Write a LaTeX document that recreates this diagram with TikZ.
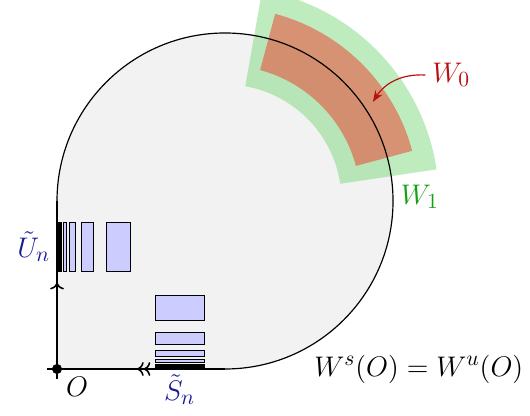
\documentclass[tikz,border=0pt]{standalone}
\usetikzlibrary{arrows.meta}
\definecolor{wonefill}{RGB}{128,218,128}
\definecolor{wzerofill}{RGB}{236,56,40}
\definecolor{wzerotext}{RGB}{185,15,15}
\definecolor{wonetext}{RGB}{20,160,20}
\definecolor{seqtext}{RGB}{25,25,150}
\begin{document}
\begin{tikzpicture}[
		axis/.style={line width=0.8pt},
		boundary/.style={line width=0.6pt},
		box/.style={draw=black, fill=blue!20, line width=0.5pt},
		tag/.style={font=\fontsize{15}{18}\selectfont},
		nbhd/.style={fill opacity=0.5}
		]
		\useasboundingbox (-1.018,-0.839) rectangle (8.446,6.589);
		
		% Region enclosed by the branches and the arc
		\fill[gray!10] (0,0) -- (0,3) arc[start angle=180, end angle=-90, radius=3] -- cycle;
		
		% Neighbourhoods W_1 and W_0
		\fill[nbhd, fill=wonefill] ([shift={(3,3)}]8.5:3.82) arc[start angle=8.5, end angle=80, radius=3.82]
			-- ([shift={(3,3)}]80:2.08) arc[start angle=80, end angle=8.5, radius=2.08] -- cycle;
		\fill[nbhd, fill=wzerofill] ([shift={(3,3)}]15:3.46) arc[start angle=15, end angle=75, radius=3.46]
			-- ([shift={(3,3)}]75:2.42) arc[start angle=75, end angle=15, radius=2.42] -- cycle;
		
		% Boundary arc
		\draw[boundary] (0,3) arc[start angle=180, end angle=-90, radius=3];
		
		% Boxes U_n and S_n
		\foreach \k in {0,...,5} {
			\pgfmathsetmacro\a{0.875/2^\k}
			\draw[box] (\a,1.75) rectangle (1.5*\a,2.625);
			\draw[box] (1.75,\a) rectangle (2.625,1.5*\a);
		}
		
		% Stable and unstable branches
		\node[circle, fill=black, inner sep=0pt, minimum size=0.18cm] (O) at (0,0) {};
		\coordinate (uend) at (0,3);
		\coordinate (send) at (3,0);
		\coordinate (utip) at (0,1.54);
		\coordinate (stip) at (1.43,0);
		\draw[axis] (0,-0.18) -- (uend);
		\draw[axis] (-0.18,0) -- (send);
		\draw[axis, ->] (O.center) -- (utip);
		\draw[axis, ->>] (send) -- (stip);
		
		% Labels
		\node[tag, anchor=north west, inner sep=1pt] at (0.12,-0.1) {$O$};
		\node[tag, anchor=east, text=seqtext, inner sep=1pt] (Ulbl) at (-0.08,2.19) {$\tilde{U}_n$};
		\node[tag, anchor=north, text=seqtext, inner sep=1pt] (Slbl) at (2.19,-0.06) {$\tilde{S}_n$};
		\node[tag, text=wonetext] (w1) at (6.48,3.07) {$W_1$};
		\node[tag, text=wzerotext] (w0) at (7.04,5.25) {$W_0$};
		\node[tag] (wsu) at (6.46,0) {$W^s(O)=W^u(O)$};
		
		% Arrow to W_0
		\coordinate (w0tip) at (5.64,4.77);
		\draw[-{Stealth}, wzerotext, line width=0.6pt] (w0.west) to[bend right=30] (w0tip);
		
	\end{tikzpicture}
\end{document}
